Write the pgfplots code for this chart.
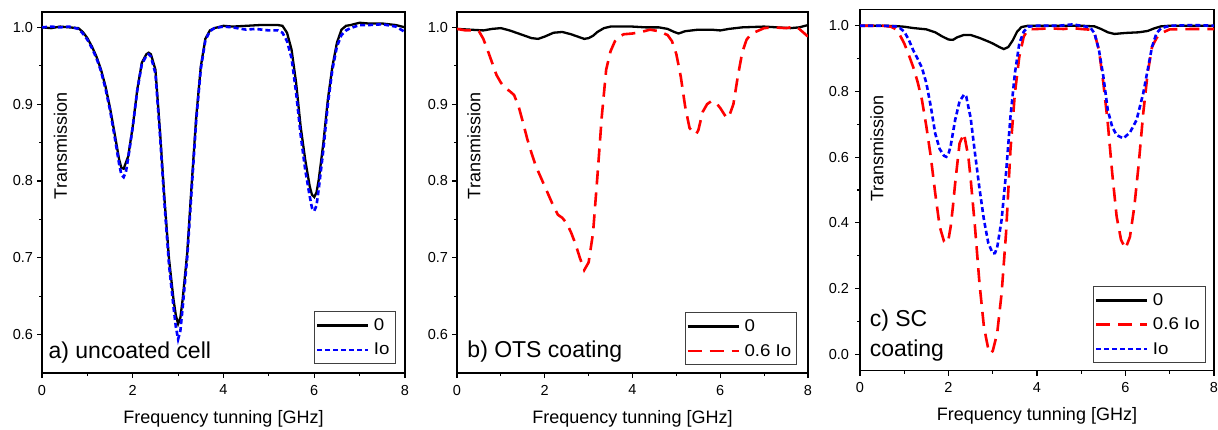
\documentclass[border=0pt]{standalone}
\usepackage{fontspec}
\setmainfont{Liberation Sans}
\newfontfamily\legfont[FakeStretch=1.1]{Liberation Sans}
\newcommand{\legtxt}[1]{{\legfont\fontsize{17}{20}\selectfont #1}}
\usepackage{pgfplots}
\pgfplotsset{compat=1.18}
\definecolor{pblue}{RGB}{0,0,255}
\definecolor{pred}{RGB}{255,0,0}
\tikzset{annot/.style={anchor=base west, font=\fontsize{23}{27}\selectfont, inner sep=0pt}}
\pgfplotsset{
  panel/.style={
    scale only axis, anchor=south west,
    xmin=0, xmax=8, xtick={0,2,4,6,8}, minor x tick num=1,
    minor y tick num=1,
    tick align=outside, xtick pos=bottom, ytick pos=left,
    major tick length=5pt, minor tick length=3pt,
    every tick/.style={black, line width=1.1pt},
    line width=1.3pt,
    tick label style={font=\fontsize{14.5}{17}\selectfont},
    xticklabel style={yshift=-3pt},
    /pgf/number format/assume math mode=true,
    yticklabel style={/pgf/number format/fixed, /pgf/number format/fixed zerofill, /pgf/number format/precision=1},
    xlabel={Frequency tunning [GHz]},
    xlabel style={font=\fontsize{18}{21}\selectfont, at={(axis description cs:0.5,0)}, anchor=base, yshift=-50pt},
    ylabel={Transmission},
    ylabel style={font=\fontsize{18}{21}\selectfont, anchor=center},
    legend cell align=left,
    legend style={draw=black!75, line width=1pt, fill=white,
      row sep=5pt, inner xsep=1pt, inner ysep=4pt,
      nodes={inner xsep=4.5pt, inner ysep=3pt}},
    legend image code/.code={\draw[##1] (0pt,0pt) -- (51pt,0pt);},
  },
  blk/.style={black, line width=2.3pt, solid},
  blu/.style={pblue, line width=2.6pt, dash pattern=on 5pt off 3pt},
  rd/.style={pred, line width=2.6pt, dash pattern=on 14pt off 8pt},
}
\begin{document}
\begin{tikzpicture}
\path[use as bounding box] (0pt,0pt) rectangle (1218pt,429pt);
% ---------------- panel a
\begin{axis}[panel, at={(42pt,56pt)}, width=363pt, height=361pt,
  ymin=0.55, ymax=1.02, ytick={0.6,0.7,0.8,0.9,1.0},
  ylabel style={at={(rel axis cs:0.051,0.629)}},
  legend style={at={(rel axis cs:0.974,0.025)}, anchor=south east}]
\addplot[blk] coordinates {(0,1.000) (0.2,0.999) (0.4,1.001) (0.6,1.000) (0.8,0.999) (0.9,0.994) (1.0,0.986) (1.1,0.975) (1.2,0.962) (1.3,0.945) (1.4,0.923) (1.5,0.895) (1.6,0.862) (1.7,0.828) (1.75,0.817) (1.8,0.816) (1.9,0.832) (2.0,0.871) (2.1,0.919) (2.2,0.954) (2.3,0.965) (2.35,0.967) (2.4,0.965) (2.5,0.945) (2.6,0.865) (2.7,0.776) (2.8,0.698) (2.9,0.645) (2.95,0.625) (3.0,0.614) (3.05,0.622) (3.1,0.646) (3.2,0.706) (3.3,0.797) (3.4,0.884) (3.5,0.949) (3.6,0.985) (3.7,0.996) (3.8,0.999) (4.0,1.002) (4.2,1.001) (4.5,1.002) (4.8,1.003) (5.0,1.003) (5.2,1.003) (5.3,1.002) (5.4,0.993) (5.5,0.971) (5.6,0.928) (5.7,0.871) (5.8,0.828) (5.9,0.793) (5.95,0.782) (6.0,0.779) (6.05,0.785) (6.1,0.802) (6.2,0.849) (6.3,0.906) (6.4,0.949) (6.5,0.980) (6.6,0.997) (6.7,1.002) (6.8,1.003) (7.0,1.006) (7.2,1.005) (7.5,1.005) (7.8,1.003) (8.0,1.000)};
\addlegendentry{\legtxt{0}}
\addplot[blu] coordinates {(0,1.000) (0.2,1.001) (0.4,1.000) (0.6,1.001) (0.8,0.998) (0.9,0.992) (1.0,0.984) (1.1,0.973) (1.2,0.96) (1.3,0.943) (1.4,0.92) (1.5,0.892) (1.6,0.858) (1.7,0.822) (1.75,0.808) (1.8,0.805) (1.85,0.812) (1.9,0.83) (2.0,0.87) (2.1,0.918) (2.2,0.952) (2.3,0.963) (2.35,0.965) (2.4,0.962) (2.5,0.94) (2.6,0.86) (2.7,0.77) (2.8,0.69) (2.9,0.635) (2.95,0.61) (3.0,0.594) (3.05,0.605) (3.1,0.635) (3.2,0.7) (3.3,0.79) (3.4,0.88) (3.5,0.946) (3.6,0.983) (3.7,0.995) (3.8,0.999) (4.0,1.001) (4.2,1.0) (4.5,0.997) (4.7,0.998) (5.0,0.996) (5.2,0.996) (5.3,0.993) (5.4,0.982) (5.5,0.96) (5.6,0.915) (5.7,0.86) (5.8,0.815) (5.9,0.78) (5.95,0.765) (6.0,0.761) (6.05,0.768) (6.1,0.79) (6.2,0.84) (6.3,0.9) (6.4,0.945) (6.5,0.975) (6.6,0.99) (6.7,0.996) (6.8,0.999) (7.0,1.003) (7.2,1.003) (7.5,1.004) (7.8,1.001) (8.0,0.994)};
\addlegendentry{\legtxt{Io}}
\node[annot] at (rel axis cs:0.0165,0.039) {a) uncoated cell};
\end{axis}
% ---------------- panel b
\begin{axis}[panel, at={(457pt,56pt)}, width=351pt, height=361pt,
  ymin=0.55, ymax=1.02, ytick={0.6,0.7,0.8,0.9,1.0},
  ylabel style={at={(rel axis cs:0.048,0.629)}},
  legend style={at={(rel axis cs:0.9695,0.022)}, anchor=south east}]
\addplot[blk] coordinates {(0,0.998) (0.3,0.997) (0.6,0.996) (0.8,0.998) (1.0,0.999) (1.2,0.996) (1.5,0.99) (1.7,0.986) (1.85,0.985) (2.0,0.988) (2.2,0.993) (2.4,0.994) (2.6,0.991) (2.8,0.987) (2.9,0.985) (3.0,0.986) (3.1,0.989) (3.2,0.994) (3.35,0.999) (3.5,1.001) (3.8,1.001) (4.0,1.001) (4.3,1.0) (4.6,1.0) (4.8,0.998) (4.95,0.994) (5.05,0.992) (5.2,0.995) (5.5,0.997) (5.8,0.997) (6.0,0.996) (6.2,0.998) (6.5,1.0) (7.0,1.001) (7.3,1.0) (7.6,0.999) (7.8,1.0) (8.0,1.003)};
\addlegendentry{\legtxt{0}}
\addplot[rd] coordinates {(0,0.998) (0.2,0.996) (0.4,0.996) (0.5,0.995) (0.6,0.985) (0.7,0.97) (0.8,0.954) (0.9,0.938) (1.0,0.928) (1.1,0.921) (1.2,0.917) (1.3,0.912) (1.4,0.898) (1.5,0.877) (1.6,0.855) (1.7,0.836) (1.8,0.819) (1.9,0.806) (2.0,0.793) (2.1,0.78) (2.2,0.767) (2.3,0.756) (2.4,0.752) (2.5,0.745) (2.6,0.733) (2.7,0.718) (2.8,0.700) (2.9,0.684) (3.0,0.694) (3.1,0.732) (3.2,0.806) (3.3,0.884) (3.4,0.945) (3.5,0.969) (3.6,0.982) (3.7,0.988) (3.8,0.991) (4.0,0.992) (4.2,0.994) (4.4,0.997) (4.6,0.995) (4.8,0.99) (4.9,0.982) (5.0,0.965) (5.1,0.936) (5.2,0.897) (5.3,0.869) (5.4,0.862) (5.45,0.861) (5.5,0.866) (5.6,0.89) (5.7,0.9) (5.8,0.904) (5.9,0.902) (6.0,0.895) (6.1,0.886) (6.15,0.882) (6.2,0.884) (6.3,0.9) (6.4,0.936) (6.5,0.967) (6.6,0.984) (6.7,0.991) (6.8,0.994) (7.0,0.999) (7.2,1.0) (7.5,0.999) (7.7,1.001) (7.8,0.998) (7.9,0.993) (8.0,0.988)};
\addlegendentry{\legtxt{0.6 Io}}
\node[annot] at (rel axis cs:0.028,0.042) {b) OTS coating};
\end{axis}
% ---------------- panel c
\begin{axis}[panel, at={(860pt,58.3pt)}, width=354pt, height=361.4pt,
  ymin=-0.05, ymax=1.05, ytick={0,0.2,0.4,0.6,0.8,1.0},
  yticklabel style={xshift=-2pt},
  ylabel style={at={(rel axis cs:0.048,0.615)}},
  legend style={at={(rel axis cs:0.9766,0.021)}, anchor=south east}]
\addplot[blk] coordinates {(0,1.0) (0.5,1.0) (0.8,0.999) (1.0,0.997) (1.2,0.993) (1.5,0.989) (1.7,0.98) (1.85,0.968) (2.0,0.958) (2.1,0.957) (2.2,0.965) (2.35,0.972) (2.5,0.972) (2.7,0.963) (2.9,0.952) (3.0,0.946) (3.15,0.935) (3.25,0.929) (3.35,0.935) (3.45,0.955) (3.55,0.982) (3.65,0.996) (3.8,1.0) (4.2,1.0) (4.6,1.0) (5.0,1.0) (5.3,0.998) (5.45,0.99) (5.6,0.98) (5.75,0.975) (6.0,0.978) (6.3,0.98) (6.5,0.984) (6.65,0.992) (6.8,0.998) (7.0,1.0) (7.5,1.0) (8.0,1.0)};
\addlegendentry{\legtxt{0}}
\addplot[rd] coordinates {(0,1.0) (0.3,1.0) (0.5,1.0) (0.7,0.997) (0.8,0.99) (0.9,0.972) (1.0,0.946) (1.1,0.912) (1.2,0.875) (1.3,0.83) (1.4,0.774) (1.5,0.693) (1.6,0.601) (1.7,0.49) (1.8,0.389) (1.9,0.343) (1.95,0.338) (2.0,0.35) (2.05,0.389) (2.1,0.45) (2.15,0.52) (2.25,0.642) (2.35,0.672) (2.45,0.6) (2.5,0.535) (2.6,0.385) (2.7,0.216) (2.8,0.084) (2.9,0.015) (2.95,0.003) (3.0,0.01) (3.1,0.064) (3.2,0.185) (3.3,0.368) (3.4,0.622) (3.5,0.794) (3.6,0.906) (3.7,0.967) (3.8,0.989) (4.0,0.99) (4.3,0.992) (4.6,0.99) (4.8,0.993) (5.0,0.99) (5.2,0.988) (5.3,0.977) (5.4,0.926) (5.5,0.825) (5.6,0.703) (5.7,0.551) (5.8,0.419) (5.9,0.348) (6.0,0.322) (6.1,0.357) (6.2,0.45) (6.3,0.581) (6.4,0.733) (6.5,0.855) (6.6,0.936) (6.7,0.962) (6.8,0.977) (7.0,0.989) (7.5,0.99) (8.0,0.99)};
\addlegendentry{\legtxt{0.6 Io}}
\addplot[blu] coordinates {(0,1.0) (0.5,1.0) (0.8,0.998) (0.9,0.993) (1.0,0.982) (1.1,0.958) (1.2,0.926) (1.3,0.9) (1.4,0.872) (1.5,0.825) (1.6,0.754) (1.7,0.672) (1.8,0.625) (1.9,0.604) (1.95,0.601) (2.0,0.61) (2.05,0.635) (2.15,0.713) (2.25,0.77) (2.35,0.79) (2.4,0.785) (2.5,0.72) (2.6,0.61) (2.7,0.505) (2.8,0.41) (2.9,0.338) (3.0,0.307) (3.05,0.308) (3.1,0.325) (3.2,0.409) (3.3,0.551) (3.4,0.723) (3.5,0.855) (3.6,0.946) (3.7,0.982) (3.8,0.997) (4.0,1.0) (4.5,1.0) (4.8,1.004) (5.0,1.0) (5.2,0.995) (5.3,0.977) (5.4,0.926) (5.5,0.845) (5.6,0.743) (5.7,0.692) (5.8,0.667) (5.95,0.657) (6.1,0.675) (6.25,0.713) (6.4,0.794) (6.5,0.865) (6.6,0.936) (6.7,0.977) (6.8,0.992) (7.0,1.0) (7.5,1.002) (8.0,1.0)};
\addlegendentry{\legtxt{Io}}
\node[annot] at (rel axis cs:0.026,0.122) {c) SC};
\node[annot] at (rel axis cs:0.026,0.039) {coating};
\end{axis}
\end{tikzpicture}
\end{document}
